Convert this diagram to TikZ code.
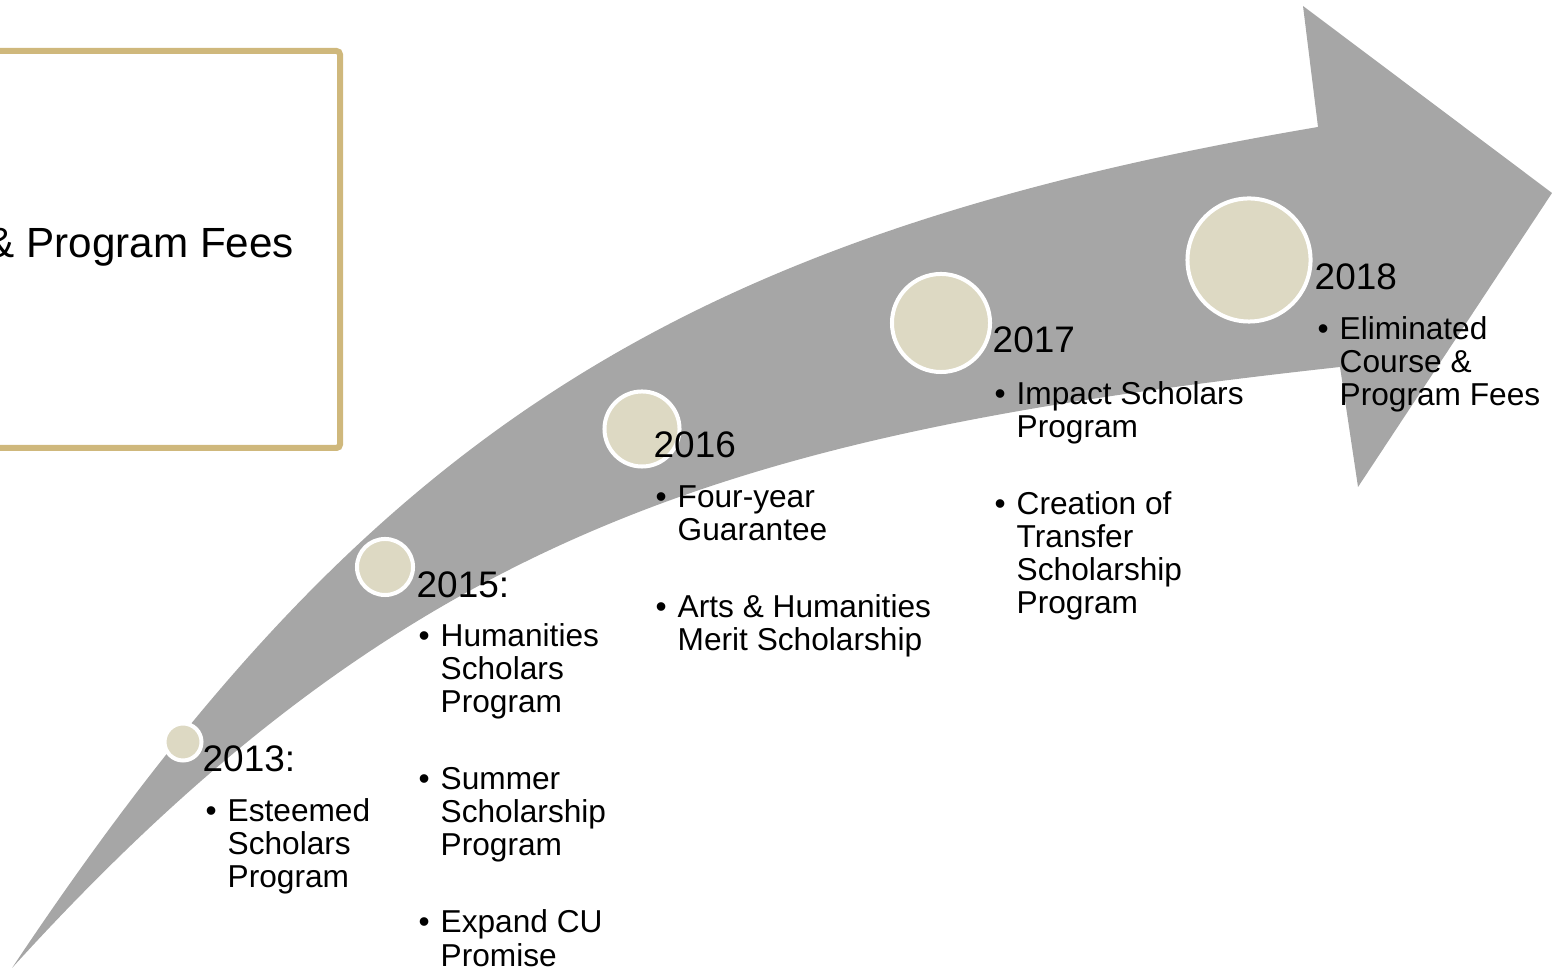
\documentclass[tikz,border=0pt]{standalone}
\usepackage{fontspec}
\setmainfont{Liberation Sans}
\definecolor{arrowgray}{HTML}{A6A6A6}
\definecolor{dotfill}{HTML}{DDD9C3}
\definecolor{cugold}{HTML}{CFB87C}
\newcommand{\tlbullet}{\llap{\textbullet\hspace{0.11cm}}}

\begin{document}
\begin{tikzpicture}[x=0.01cm,y=-0.01cm,
    dot/.style={circle,draw=white,line width=0.04cm,fill=dotfill,inner sep=0},
    yr/.style={anchor=base west,inner sep=0,font=\fontsize{10.5}{12}\selectfont},
    itm/.style={anchor=base west,inner sep=0,align=left,font=\fontsize{9}{9.4}\selectfont}]
    \useasboundingbox (0,0) rectangle (1552,971);

    % the rising arrow
    \fill[arrowgray] (12,968) .. controls (362,443) and (668,237) .. (1318,127)
        -- (1303,6) -- (1552,193) -- (1358,487) -- (1340,367)
        .. controls (740,433) and (412,528) .. (12,968) -- cycle;

    % box on the left
    \draw[cugold,line width=0.06cm,rounded corners=1pt] (-20,51) rectangle (340,448);
    \node[anchor=base west,inner sep=0,font=\fontsize{12}{14}\selectfont] (fees) at (-14,258) {\& Program Fees};

    % dots
    \node[dot,minimum size=0.37cm] (c13) at (183,742) {};
    \node[dot,minimum size=0.56cm] (c15) at (385,567) {};
    \node[dot,minimum size=0.75cm] (c16) at (642,429) {};
    \node[dot,minimum size=0.98cm] (c17) at (941,323) {};
    \node[dot,minimum size=1.23cm] (c18) at (1249,260) {};

    % years
    \node[yr] (y13) at (202,772) {2013:};
    \node[yr] (y15) at (416,598) {2015:};
    \node[yr] (y16) at (653,458) {2016};
    \node[yr] (y17) at (992,353) {2017};
    \node[yr] (y18) at (1314,290) {2018};

    % items (placed at the baseline of their last line)
    \node[itm] (i13a) at (227,888) {\tlbullet Esteemed\\Scholars\\Program};

    \node[itm] (i15a) at (440,713) {\tlbullet Humanities\\Scholars\\Program};
    \node[itm] (i15b) at (440,856) {\tlbullet Summer\\Scholarship\\Program};
    \node[itm] (i15c) at (440,966) {\tlbullet Expand CU\\Promise};

    \node[itm] (i16a) at (677,541) {\tlbullet Four-year\\Guarantee};
    \node[itm] (i16b) at (677,651) {\tlbullet Arts \& Humanities\\Merit Scholarship};

    \node[itm] (i17a) at (1016,438) {\tlbullet Impact Scholars\\Program};
    \node[itm] (i17b) at (1016,614) {\tlbullet Creation of\\Transfer\\Scholarship\\Program};

    \node[itm] (i18a) at (1339,406) {\tlbullet Eliminated\\Course \&\\Program Fees};
\end{tikzpicture}
\end{document}
